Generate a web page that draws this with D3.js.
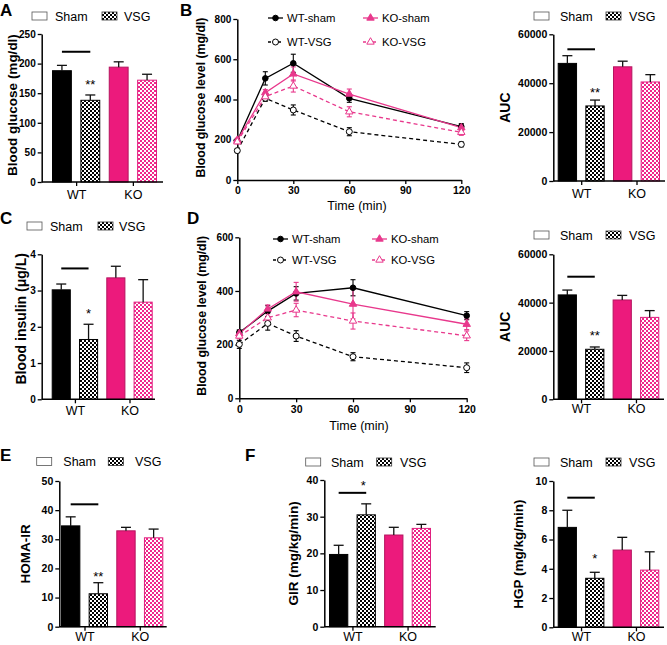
<!DOCTYPE html>
<html><head><meta charset="utf-8">
<script src="https://cdn.jsdelivr.net/npm/d3@7"></script>
<style>body{margin:0;background:#fff} svg{display:block;font-family:"Liberation Sans",Arial,Helvetica,sans-serif}</style>
</head><body><svg id="c" width="667" height="645"></svg>
<script>
// ---------- DATA ----------
const groups = ["WT", "KO"];
const treatments = ["Sham", "VSG"];
const barKeys = ["WT-Sham", "WT-VSG", "KO-Sham", "KO-VSG"];

const fastingGlucose = [188, 138, 194, 172];
const fastingGlucoseSEM = [9, 9, 9, 10];
const gttAUC = [48100, 30700, 46700, 40500];
const gttAUCSEM = [3150, 2400, 2300, 3000];
const insulin = [3.02, 1.65, 3.35, 2.68];
const insulinSEM = [0.16, 0.42, 0.32, 0.62];
const ittAUC = [43200, 20700, 41100, 33900];
const ittAUCSEM = [2000, 950, 1900, 2800];
const homaIR = [34.6, 11.3, 32.9, 30.5];
const homaIRSEM = [3.1, 3.8, 1.2, 3.0];
const gir = [19.7, 30.5, 25.0, 26.8];
const girSEM = [2.5, 3.0, 2.1, 1.1];
const hgp = [6.83, 3.35, 5.28, 3.91];
const hgpSEM = [1.17, 0.41, 0.87, 1.25];

const timePoints = [0, 15, 30, 60, 120];
const timeTicks = [0, 30, 60, 90, 120];
const lineSeries = ["WT-sham", "WT-VSG", "KO-sham", "KO-VSG"];

// Glucose tolerance test (B)
const gttWtSham = [195, 505, 580, 406, 265];
const gttWtShamSEM = [10, 33, 45, 20, 15];
const gttWtVSG = [146, 406, 348, 240, 177];
const gttWtVSGSEM = [10, 15, 25, 20, 12];
const gttKoSham = [198, 434, 527, 427, 260];
const gttKoShamSEM = [10, 15, 35, 25, 15];
const gttKoVSG = [190, 414, 467, 339, 237];
const gttKoVSGSEM = [10, 15, 30, 25, 15];

// Insulin tolerance test (D)
const ittWtSham = [245, 325, 391, 412, 308];
const ittWtShamSEM = [10, 20, 25, 30, 15];
const ittWtVSG = [201, 279, 232, 155, 114];
const ittWtVSGSEM = [15, 25, 20, 15, 18];
const ittKoSham = [241, 333, 397, 351, 276];
const ittKoShamSEM = [10, 15, 35, 55, 20];
const ittKoVSG = [232, 300, 329, 288, 233];
const ittKoVSGSEM = [10, 15, 25, 30, 18];

// ---------- STYLE ----------
const PINK = "#ec1a7c";
const PINK_LINE = "#e8388c";
const svg = d3.select("#c");

const defs = svg.append("defs");
function checker(id, color) {
  const p = defs.append("pattern").attr("id", id).attr("width", 4).attr("height", 4)
    .attr("patternUnits", "userSpaceOnUse");
  p.append("rect").attr("width", 4).attr("height", 4).attr("fill", "#fff");
  p.append("rect").attr("width", 2).attr("height", 2).attr("fill", color);
  p.append("rect").attr("x", 2).attr("y", 2).attr("width", 2).attr("height", 2).attr("fill", color);
}
checker("chkK", "#000");
checker("chkP", "#f0268a");

const barFill = ["#000", "url(#chkK)", PINK, "url(#chkP)"];
const barStroke = ["#000", "#000", "#b5145f", "#e0207f"];

function styleAxis(sel, fs) {
  sel.select(".domain").attr("stroke", "#000").attr("stroke-width", 1.5);
  sel.selectAll(".tick line").attr("stroke", "#000").attr("stroke-width", 1.3);
  sel.selectAll(".tick text").attr("fill", "#000").attr("font-size", fs).attr("font-weight", "bold")
    .attr("font-family", '"Liberation Sans",Arial,sans-serif');
}

function panelLetter(t, x, y) {
  svg.append("text").attr("x", x).attr("y", y).text(t).attr("font-size", 17).attr("font-weight", "bold");
}

function barPanel(o) {
  const g = svg.append("g");
  const y = d3.scaleLinear().domain([0, o.max]).range([o.yBottom, o.yTop]);
  const x = d3.scaleBand().domain(barKeys).range([o.barsStart, o.barsEnd]).paddingInner(0.3).paddingOuter(0);
  const bw = x.bandwidth();
  // bars
  g.selectAll("rect.bar").data(o.values).join("rect").attr("class", "bar")
    .attr("x", (d, i) => x(barKeys[i]) + 0.5).attr("y", d => y(d))
    .attr("width", bw - 1).attr("height", d => o.yBottom - y(d))
    .attr("fill", (d, i) => barFill[i]).attr("stroke", (d, i) => barStroke[i]).attr("stroke-width", 1);
  // error bars
  const eb = g.selectAll("g.eb").data(o.values).join("g").attr("class", "eb");
  eb.append("line").attr("x1", (d, i) => x(barKeys[i]) + bw / 2).attr("x2", (d, i) => x(barKeys[i]) + bw / 2)
    .attr("y1", d => y(d)).attr("y2", (d, i) => y(d + o.errs[i])).attr("stroke", "#111").attr("stroke-width", 1.3);
  eb.append("line").attr("x1", (d, i) => x(barKeys[i]) + bw / 2 - 5).attr("x2", (d, i) => x(barKeys[i]) + bw / 2 + 5)
    .attr("y1", (d, i) => y(d + o.errs[i])).attr("y2", (d, i) => y(d + o.errs[i])).attr("stroke", "#111").attr("stroke-width", 1.3);
  // y axis
  const ya = d3.axisLeft(y).tickValues(o.ticks).tickSize(4).tickPadding(2).tickSizeOuter(0).tickFormat(d3.format("d"));
  g.append("g").attr("transform", `translate(${o.axisX},0)`).call(ya).call(s => styleAxis(s, o.tickFont || 10));
  // x axis
  const centers = [x(barKeys[0]) + (x(barKeys[1]) + bw - x(barKeys[0])) / 2, x(barKeys[2]) + (x(barKeys[3]) + bw - x(barKeys[2])) / 2];
  const gx = d3.scalePoint().domain(groups).range(centers).padding(0);
  const xa = d3.axisBottom(gx).tickSize(4).tickPadding(o.xLabelPad).tickSizeOuter(0);
  const xg = g.append("g").attr("transform", `translate(0,${o.yBottom})`).call(xa);
  styleAxis(xg, 12);
  xg.select(".domain").remove();
  xg.selectAll(".tick text").attr("font-weight", "normal").attr("font-size", 12.5);
  g.append("line").attr("x1", o.axisX).attr("x2", o.axisEnd).attr("y1", o.yBottom).attr("y2", o.yBottom)
    .attr("stroke", "#000").attr("stroke-width", 1.5);
  // significance line
  g.append("line").attr("x1", x(barKeys[0]) + bw / 2).attr("x2", x(barKeys[1]) + bw / 2)
    .attr("y1", y(o.sig)).attr("y2", y(o.sig)).attr("stroke", "#000").attr("stroke-width", 2);
  // stars
  const sx = o.starX != null ? o.starX : x(barKeys[1]) + bw / 2;
  const sy = o.starY != null ? o.starY : y(o.values[1] + o.errs[1]) - o.starOff;
  g.append("text").attr("x", sx).attr("y", sy).attr("text-anchor", "middle").attr("font-size", 13).text(o.stars);
  // legend
  const lg = g.append("g");
  lg.append("rect").attr("x", o.leg[0]).attr("y", o.legY - 4).attr("width", 15).attr("height", 8)
    .attr("fill", "#fff").attr("stroke", "#555").attr("stroke-width", 0.8);
  lg.append("text").attr("x", o.leg[1]).attr("y", o.legY + 4.5).attr("font-size", 12.5).text(treatments[0]);
  lg.append("rect").attr("x", o.leg[2]).attr("y", o.legY - 4).attr("width", 15).attr("height", 8)
    .attr("fill", "url(#chkK)").attr("stroke", "#333").attr("stroke-width", 0.8);
  lg.append("text").attr("x", o.leg[3]).attr("y", o.legY + 4.5).attr("font-size", 12.5).text(treatments[1]);
  // title
  g.append("text").attr("transform", `translate(${o.titleX},${(o.yTop + o.yBottom) / 2 + (o.titleDy || 0)}) rotate(-90)`)
    .attr("text-anchor", "middle").attr("dominant-baseline", "central")
    .attr("font-size", o.titleFont || 13.5).attr("font-weight", "bold").text(o.title);
}

function linePanel(o) {
  const g = svg.append("g");
  const x = d3.scaleLinear().domain([0, 120]).range(o.xRange);
  const y = d3.scaleLinear().domain([0, o.max]).range(o.yRange);
  const series = [
    { name: lineSeries[0], v: o.data[0], e: o.errs[0], color: "#000", dash: null, shape: "circle", filled: true },
    { name: lineSeries[1], v: o.data[1], e: o.errs[1], color: "#000", dash: "4,3", shape: "circle", filled: false },
    { name: lineSeries[2], v: o.data[2], e: o.errs[2], color: PINK_LINE, dash: null, shape: "tri", filled: true },
    { name: lineSeries[3], v: o.data[3], e: o.errs[3], color: PINK_LINE, dash: "4,3", shape: "tri", filled: false }
  ];
  // axes
  const ya = d3.axisLeft(y).tickValues(o.yTicks).tickSize(4).tickPadding(2).tickSizeOuter(0).tickFormat(d3.format("d"));
  g.append("g").attr("transform", `translate(${o.xRange[0]},0)`).call(ya).call(s => styleAxis(s, 10));
  const xa = d3.axisBottom(x).tickValues(timeTicks).tickSize(4).tickPadding(o.xTickPad).tickSizeOuter(0);
  g.append("g").attr("transform", `translate(0,${o.yRange[0]})`).call(xa).call(s => styleAxis(s, 10.5));
  g.append("text").attr("x", o.xTitleX).attr("y", o.xTitleY).attr("text-anchor", "middle").attr("font-size", 12.5).text("Time (min)");
  g.append("text").attr("transform", `translate(${o.titleX},${(o.yRange[0] + o.yRange[1]) / 2 - 2}) rotate(-90)`)
    .attr("text-anchor", "middle").attr("dominant-baseline", "central")
    .attr("font-size", 12.3).attr("font-weight", "bold").text(o.title);
  const line = d3.line().x((d, i) => x(timePoints[i])).y(d => y(d));
  const tri = d3.symbol().type(d3.symbolTriangle).size(24);
  function marker(sel, s) {
    if (s.shape === "circle") {
      sel.append("circle").attr("r", s.filled ? 2.8 : 3).attr("fill", s.filled ? s.color : "#fff")
        .attr("stroke", s.color).attr("stroke-width", 1);
    } else {
      sel.append("path").attr("d", tri()).attr("fill", s.filled ? s.color : "#fff")
        .attr("stroke", s.color).attr("stroke-width", 1);
    }
  }
  // error bars
  series.forEach(s => {
    const eg = g.append("g").attr("stroke", s.color).attr("stroke-width", 1.1);
    s.v.forEach((v, i) => {
      const cx = x(timePoints[i]);
      eg.append("line").attr("x1", cx).attr("x2", cx).attr("y1", y(v - s.e[i])).attr("y2", y(v + s.e[i]));
      eg.append("line").attr("x1", cx - 2.5).attr("x2", cx + 2.5).attr("y1", y(v - s.e[i])).attr("y2", y(v - s.e[i]));
      eg.append("line").attr("x1", cx - 2.5).attr("x2", cx + 2.5).attr("y1", y(v + s.e[i])).attr("y2", y(v + s.e[i]));
    });
  });
  series.forEach(s => {
    g.append("path").attr("d", line(s.v)).attr("fill", "none").attr("stroke", s.color)
      .attr("stroke-width", 1.3).attr("stroke-dasharray", s.dash);
  });
  series.forEach(s => {
    s.v.forEach((v, i) => {
      const m = g.append("g").attr("transform", `translate(${x(timePoints[i])},${y(v)})`);
      marker(m, s);
    });
  });
  // legend
  series.forEach((s, k) => {
    const col = k < 2 ? 0 : 1, row = k % 2;
    const lx = o.legX[col], ly = o.legY[row];
    g.append("line").attr("x1", lx).attr("x2", lx + 15).attr("y1", ly).attr("y2", ly).attr("stroke", s.color)
      .attr("stroke-width", 1.3).attr("stroke-dasharray", s.dash ? "3,2" : null);
    const m = g.append("g").attr("transform", `translate(${lx + 7.5},${ly})`);
    marker(m, s);
    g.append("text").attr("x", lx + 19).attr("y", ly + 4).attr("font-size", 11.3).text(s.name);
  });
}

// ---------- PANELS ----------
panelLetter("A", 0, 15.5);
panelLetter("B", 180, 16);
panelLetter("C", 0, 224);
panelLetter("D", 187, 224);
panelLetter("E", 0, 461);
panelLetter("F", 245, 461);

barPanel({ values: fastingGlucose, errs: fastingGlucoseSEM, max: 250, ticks: [0, 50, 100, 150, 200, 250],
  axisX: 41.7, yTop: 34, yBottom: 182, barsStart: 52, barsEnd: 157, axisEnd: 163, tickFont: 10,
  title: "Blood glucose (mg/dl)", titleX: 12.5, titleFont: 13.5, titleDy: -3, sig: 220, stars: "**", starOff: 6.3,
  legY: 16, leg: [32, 55, 102, 124], xLabelPad: 4 });

barPanel({ values: gttAUC, errs: gttAUCSEM, max: 60000, ticks: [0, 20000, 40000, 60000],
  axisX: 553.3, yTop: 34.3, yBottom: 181, barsStart: 557.7, barsEnd: 660, axisEnd: 665, tickFont: 10.5,
  title: "AUC", titleX: 505, titleFont: 14, sig: 53870, stars: "**", starOff: 3.4,
  legY: 16, leg: [534, 560, 606, 629], xLabelPad: 4 });

barPanel({ values: insulin, errs: insulinSEM, max: 4, ticks: [0, 1, 2, 3, 4],
  axisX: 41.7, yTop: 254.3, yBottom: 399.3, barsStart: 51.7, barsEnd: 152.7, axisEnd: 155, tickFont: 10,
  title: "Blood insulin (\u03bcg/L)", titleX: 21, titleFont: 14, titleDy: -8, sig: 3.61, stars: "*", starOff: 6,
  legY: 226, leg: [27, 50, 98, 119], xLabelPad: 3 });

barPanel({ values: ittAUC, errs: ittAUCSEM, max: 60000, ticks: [0, 20000, 40000, 60000],
  axisX: 553.3, yTop: 254.3, yBottom: 399.3, barsStart: 557.7, barsEnd: 659.3, axisEnd: 664, tickFont: 10.5,
  title: "AUC", titleX: 505, titleFont: 14, sig: 50730, stars: "**", starOff: 7.3,
  legY: 235, leg: [534, 560, 606, 629], xLabelPad: 1 });

barPanel({ values: homaIR, errs: homaIRSEM, max: 50, ticks: [0, 10, 20, 30, 40, 50],
  axisX: 59.3, yTop: 481, yBottom: 626.7, barsStart: 61, barsEnd: 163.3, axisEnd: 166.7, tickFont: 10.5,
  title: "HOMA-IR", titleX: 25, titleFont: 13.5, sig: 42, stars: "**", starOff: 2,
  legY: 461.5, leg: [36.7, 63.3, 108.3, 135], xLabelPad: 1.5 });

barPanel({ values: gir, errs: girSEM, max: 40, ticks: [0, 10, 20, 30, 40],
  axisX: 324.3, yTop: 480, yBottom: 626.7, barsStart: 329, barsEnd: 431, axisEnd: 435.7, tickFont: 10.5,
  title: "GIR (mg/kg/min)", titleX: 293.3, titleFont: 13.5, sig: 36.5, stars: "*", starX: 363.3, starY: 490,
  legY: 462, leg: [305.7, 331, 376.7, 400], xLabelPad: 1.5 });

barPanel({ values: hgp, errs: hgpSEM, max: 10, ticks: [0, 2, 4, 6, 8, 10],
  axisX: 553.3, yTop: 481, yBottom: 627.3, barsStart: 557.7, barsEnd: 659.3, axisEnd: 664, tickFont: 10.5,
  title: "HGP (mg/kg/min)", titleX: 518, titleFont: 13.5, sig: 8.86, stars: "*", starOff: 9.6,
  legY: 462, leg: [534, 560, 606, 629], xLabelPad: 1 });

linePanel({ xRange: [237.3, 461.3], yRange: [180, 19], max: 800, yTicks: [0, 200, 400, 600, 800],
  data: [gttWtSham, gttWtVSG, gttKoSham, gttKoVSG], errs: [gttWtShamSEM, gttWtVSGSEM, gttKoShamSEM, gttKoVSGSEM],
  title: "Blood glucose level (mg/dl)", titleX: 201, xTickPad: 3, xTitleX: 357, xTitleY: 209.5,
  legX: [268, 363], legY: [18, 42] });

linePanel({ xRange: [239.3, 466.7], yRange: [398.3, 237.3], max: 600, yTicks: [0, 200, 400, 600],
  data: [ittWtSham, ittWtVSG, ittKoSham, ittKoVSG], errs: [ittWtShamSEM, ittWtVSGSEM, ittKoShamSEM, ittKoVSGSEM],
  title: "Blood glucose level (mg/dl)", titleX: 201.5, xTickPad: 3, xTitleX: 359, xTitleY: 429.5,
  legX: [273, 372], legY: [239, 260] });
</script></body></html>
